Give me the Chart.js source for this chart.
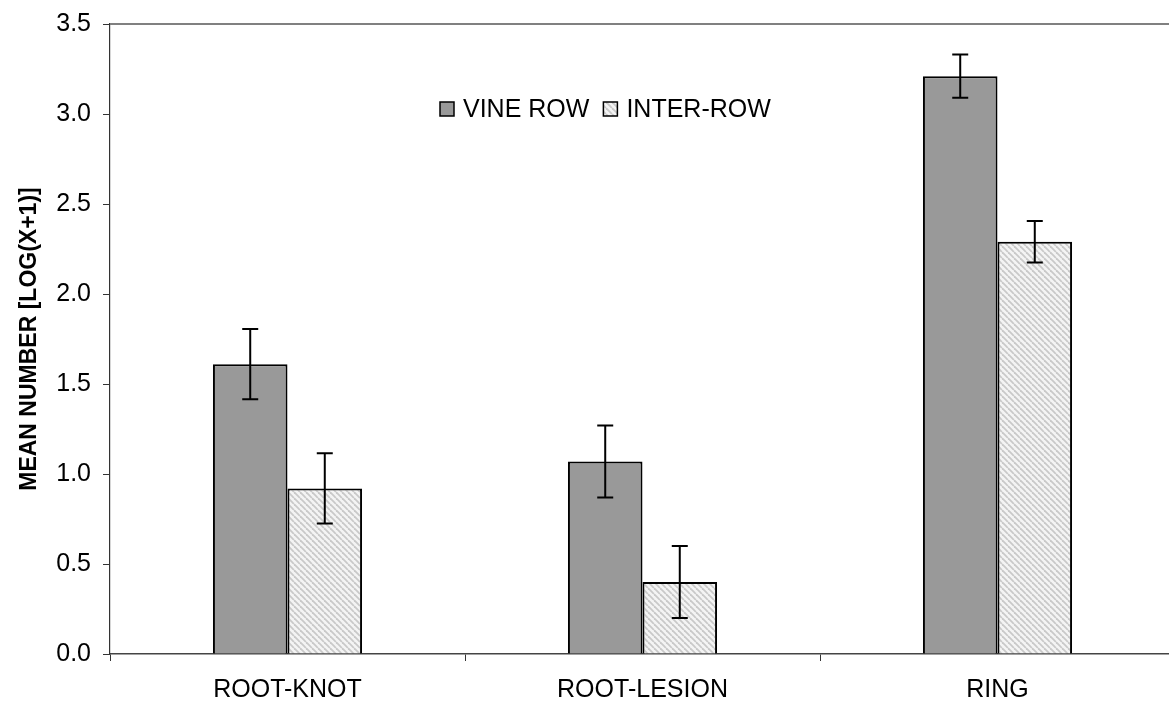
<!DOCTYPE html>
<html lang="en">
  <head>
    <meta charset="UTF-8" />
    <title>Nematodes</title>
    <style>
      html, body { margin: 0; padding: 0; background: #fff; overflow: hidden; }
      .container { position: relative; width: 1190px; height: 702px; }
    </style>
  </head>
  <body>
    <div class="container">
      <canvas id="myChart"></canvas>
    </div>

    <script src="https://cdn.jsdelivr.net/npm/chart.js"></script>

    <script>
      // data
      const categories = ["ROOT-KNOT", "ROOT-LESION", "RING"];
      const vineRow = [1.61, 1.07, 3.21];
      const vineRowErr = [0.195, 0.2, 0.12];
      const interRow = [0.92, 0.4, 2.29];
      const interRowErr = [0.195, 0.2, 0.115];
      const seriesNames = ["VINE ROW", "INTER-ROW"];
      const yTicks = [0, 0.5, 1, 1.5, 2, 2.5, 3, 3.5];

      const FONT = "'Liberation Sans', Arial, sans-serif";

      // light diagonal hatch for the inter-row bars
      function makeHatch() {
        const n = 6;
        const c = document.createElement("canvas");
        c.width = n;
        c.height = n;
        const g = c.getContext("2d");
        g.fillStyle = "#f4f4f4";
        g.fillRect(0, 0, n, n);
        g.strokeStyle = "#c9c9c9";
        g.lineWidth = 1.8;
        for (let k = -1; k <= 1; k++) {
          g.beginPath();
          g.moveTo(k * n, 0);
          g.lineTo(k * n + n, n);
          g.stroke();
        }
        return g.createPattern(c, "repeat");
      }

      const ctx = document.getElementById("myChart").getContext("2d");
      const hatch = makeHatch();

      // error bars
      const errorBars = {
        id: "errorBars",
        afterDatasetsDraw(chart) {
          const { ctx, scales: { y } } = chart;
          ctx.save();
          ctx.strokeStyle = "#000";
          ctx.lineWidth = 2;
          chart.data.datasets.forEach((ds, i) => {
            const meta = chart.getDatasetMeta(i);
            meta.data.forEach((bar, j) => {
              const v = ds.data[j];
              const e = ds.errors[j];
              const yTop = y.getPixelForValue(v + e);
              const yBot = y.getPixelForValue(v - e);
              const x = bar.x;
              ctx.beginPath();
              ctx.moveTo(x, yTop);
              ctx.lineTo(x, yBot);
              ctx.moveTo(x - 8, yTop);
              ctx.lineTo(x + 8, yTop);
              ctx.moveTo(x - 8, yBot);
              ctx.lineTo(x + 8, yBot);
              ctx.stroke();
            });
          });
          ctx.restore();
        },
      };

      // grey line along the top of the plot + legend
      const frameAndLegend = {
        id: "frameAndLegend",
        afterDraw(chart) {
          const { ctx, chartArea: { top, left, right } } = chart;
          ctx.save();
          ctx.strokeStyle = "#808080";
          ctx.lineWidth = 2;
          ctx.beginPath();
          ctx.moveTo(left, top);
          ctx.lineTo(right, top);
          ctx.stroke();

          ctx.font = `25px ${FONT}`;
          ctx.textBaseline = "middle";
          ctx.textAlign = "left";
          let x = 440;
          const yMid = 109;
          chart.data.datasets.forEach((ds) => {
            ctx.fillStyle = ds.backgroundColor;
            ctx.fillRect(x, yMid - 7, 14, 14);
            ctx.strokeStyle = "#000";
            ctx.lineWidth = 1.5;
            ctx.strokeRect(x, yMid - 7, 14, 14);
            ctx.fillStyle = "#000";
            ctx.fillText(ds.label, x + 23, yMid + 1);
            x += 23 + ctx.measureText(ds.label).width + 14;
          });
          ctx.restore();
        },
      };

      new Chart(ctx, {
        type: "bar",
        data: {
          labels: categories,
          datasets: [
            {
              label: seriesNames[0],
              data: vineRow,
              errors: vineRowErr,
              backgroundColor: "#999999",
              borderColor: "#000",
              borderWidth: 2,
            },
            {
              label: seriesNames[1],
              data: interRow,
              errors: interRowErr,
              backgroundColor: hatch,
              borderColor: "#000",
              borderWidth: 2,
            },
          ],
        },
        options: {
          responsive: true,
          maintainAspectRatio: false,
          animation: false,
          datasets: {
            bar: { categoryPercentage: 0.42, barPercentage: 1 },
          },
          layout: { padding: { top: 24, right: 15, left: 0, bottom: 0 } },
          plugins: {
            legend: { display: false },
            tooltip: { enabled: false },
          },
          scales: {
            x: {
              afterFit(scale) {
                scale.height = 48;
                scale.paddingLeft = 0;
                scale.paddingRight = 0;
              },
              grid: {
                offset: true,
                drawOnChartArea: false,
                drawTicks: true,
                tickLength: 7,
                color: "#333",
              },
              border: { color: "#444", width: 1.5 },
              ticks: {
                color: "#000",
                font: { family: FONT, size: 25 },
                padding: 14,
              },
            },
            y: {
              min: 0,
              max: 3.5,
              afterFit(scale) {
                scale.width = 110;
                scale.paddingTop = 0;
                scale.paddingBottom = 0;
              },
              afterBuildTicks(scale) {
                scale.ticks = yTicks.map((v) => ({ value: v }));
              },
              grid: {
                drawOnChartArea: false,
                drawTicks: true,
                tickLength: 7,
                color: "#333",
              },
              border: { color: "#333", width: 1.2 },
              ticks: {
                color: "#000",
                font: { family: FONT, size: 25 },
                padding: 12,
                callback: (v) => Number(v).toFixed(1),
              },
              title: {
                display: true,
                text: "MEAN NUMBER [LOG(X+1)]",
                color: "#000",
                font: { family: FONT, size: 23, weight: "bold" },
                padding: { top: 16, bottom: 0 },
              },
            },
          },
        },
        plugins: [errorBars, frameAndLegend],
      });
    </script>
  </body>
</html>
